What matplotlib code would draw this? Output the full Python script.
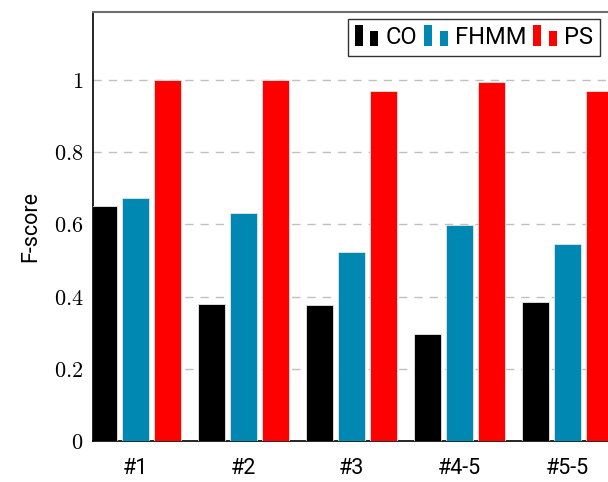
import matplotlib
matplotlib.use("Agg")
import matplotlib.pyplot as plt
from matplotlib.patches import Rectangle
from matplotlib.legend_handler import HandlerBase
import numpy as np

houses = ["#1", "#2", "#3", "#4-5", "#5-5"]
co = [0.651, 0.379, 0.377, 0.295, 0.386]
fhmm = [0.672, 0.632, 0.524, 0.599, 0.545]
ps = [1.0, 1.0, 0.970, 0.995, 0.968]

yticks = [0, 0.2, 0.4, 0.6, 0.8, 1]
ytick_labels = ["$0$", "$0.2$", "$0.4$", "$0.6$", "$0.8$", "$1$"]

COLORS = {"CO": "black", "FHMM": "#0088b3", "PS": "#ff0000"}

plt.rcParams["mathtext.fontset"] = "cm"
SANS = ["Roboto", "DejaVu Sans"]


class TwoBarHandler(HandlerBase):
    # pgfplots-style ybar legend: a tall bar next to a shorter one
    def create_artists(self, legend, orig_handle, xdescent, ydescent,
                       width, height, fontsize, trans):
        c = orig_handle.get_facecolor()
        w = width * 0.34
        y0 = -ydescent - height * 0.12
        r1 = Rectangle((-xdescent, y0), w, height * 1.25,
                       facecolor=c, edgecolor="none", transform=trans)
        r2 = Rectangle((-xdescent + width * 0.66, y0), w, height * 0.92,
                       facecolor=c, edgecolor="none", transform=trans)
        return [r1, r2]


fig = plt.figure(figsize=(6.08, 4.82), dpi=100)
W, H = 608, 482
ax = fig.add_axes([93 / W, (H - 441) / H, 517 / W, 429 / H])

x = np.arange(len(houses))
bw = 0.253
step = 0.297
bars = []
for i, (name, vals) in enumerate([("CO", co), ("FHMM", fhmm), ("PS", ps)]):
    b = ax.bar(x + (i - 1) * step, vals, bw, color=COLORS[name],
               edgecolor="#e6e6e6", linewidth=0.6, label=name, zorder=3)
    bars.append(b)

ax.set_xlim(-0.394, 4.394)
ax.set_ylim(0, 1.188)

ax.set_yticks(yticks)
ax.set_yticklabels(ytick_labels, fontsize=16)
ax.set_xticks(x)
ax.set_xticklabels(houses, fontsize=15.5, family=SANS)
ax.tick_params(length=0)
ax.tick_params(axis="y", pad=7)
ax.tick_params(axis="x", pad=12)

for yv in yticks[1:]:
    ax.axhline(yv, color="#c0c0c0", lw=1.0, ls=(0, (6, 5)), zorder=1)

ax.set_ylabel("F-score", fontsize=15.5, family=SANS, labelpad=9)

for s in ["left", "bottom"]:
    ax.spines[s].set_color("black")
    ax.spines[s].set_linewidth(1.2)
ax.spines["top"].set_color("#707070")
ax.spines["top"].set_linewidth(1.5)
ax.spines["right"].set_visible(False)

handles = [b.patches[0] for b in bars]
leg = ax.legend(handles, ["CO", "FHMM", "PS"], ncol=3,
                handler_map={p: TwoBarHandler() for p in handles},
                loc="upper right", bbox_to_anchor=(0.981, 0.984),
                fancybox=False, framealpha=1, edgecolor="#333333",
                prop={"family": SANS, "size": 17},
                handlelength=1.0, handleheight=0.7, handletextpad=0.3,
                columnspacing=0.3, borderpad=0.3, borderaxespad=0)
leg.get_frame().set_linewidth(1.0)

fig.savefig("out.png", dpi=100)
